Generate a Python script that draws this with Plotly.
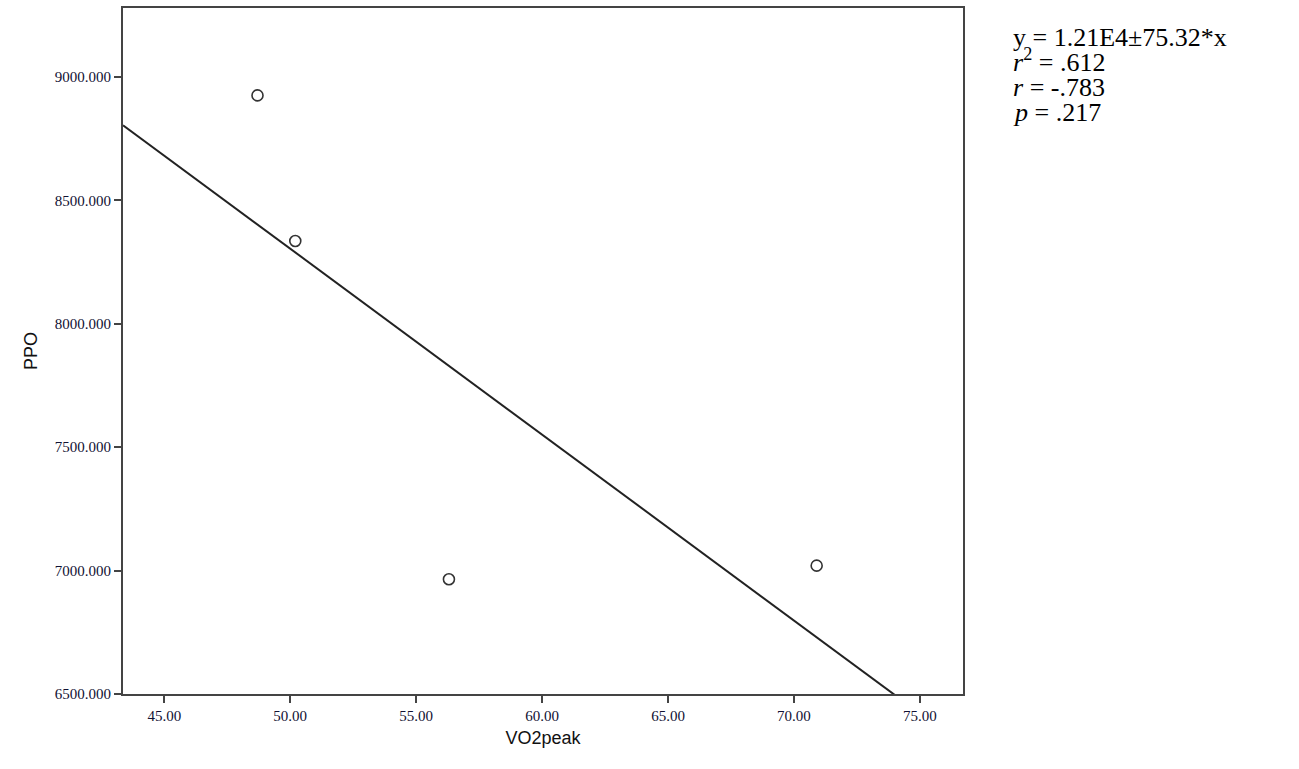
import plotly.graph_objects as go

# Data
vo2peak = [48.7, 50.2, 56.3, 70.9]
ppo = [8925, 8335, 6965, 7020]
fit_intercept = 12070.0
fit_slope = -75.32
x_range = [43.36, 76.71]
y_range = [6500, 9279]
y_ticks = [6500, 7000, 7500, 8000, 8500, 9000]
x_ticks = [45, 50, 55, 60, 65, 70, 75]
stats_lines = [
    "y = 1.21E4±75.32*x",
    "<i>r</i><sup>2</sup> = .612",
    "<i>r</i> = -.783",
    "<i>p</i> = .217",
]

fit_x = x_range
fit_y = [fit_intercept + fit_slope * v for v in fit_x]

fig = go.Figure()
fig.add_trace(go.Scatter(
    x=fit_x, y=fit_y, mode="lines",
    line=dict(color="#222222", width=2),
    hoverinfo="skip", showlegend=False,
))
fig.add_trace(go.Scatter(
    x=vo2peak, y=ppo, mode="markers",
    marker=dict(symbol="circle-open", size=11, color="#333333",
                line=dict(width=1.6, color="#333333")),
    showlegend=False,
))

axis_common = dict(
    showline=True, mirror=True, linecolor="#444444", linewidth=2,
    ticks="outside", ticklen=7, tickwidth=2, tickcolor="#444444",
    showgrid=False, zeroline=False,
    tickfont=dict(family="Liberation Serif", size=15, color="#111133"),
)

fig.update_xaxes(
    range=x_range, tickvals=x_ticks, tickformat=".2f",
    title=dict(text="VO2peak", font=dict(family="Liberation Sans", size=18, color="#111111"), standoff=8),
    **axis_common,
)
fig.update_yaxes(
    range=y_range, tickvals=y_ticks, tickformat=".3f",
    title=dict(text="PPO", font=dict(family="Liberation Sans", size=18, color="#111111"), standoff=12),
    **axis_common,
)

line_gap = 25
for i, line in enumerate(stats_lines):
    fig.add_annotation(
        text=line, xref="paper", yref="paper",
        x=1.0, y=1.0, xanchor="left", yanchor="bottom",
        xshift=48, yshift=-(46 + line_gap * i),
        showarrow=False, align="left",
        font=dict(family="Liberation Serif", size=26, color="#000000"),
    )

fig.update_layout(
    width=1299, height=769,
    margin=dict(l=123, r=336, t=6, b=75),
    paper_bgcolor="white", plot_bgcolor="white",
)

fig.write_html("out.html", config={"displayModeBar": False},
               post_script="document.body.style.margin='0';")
